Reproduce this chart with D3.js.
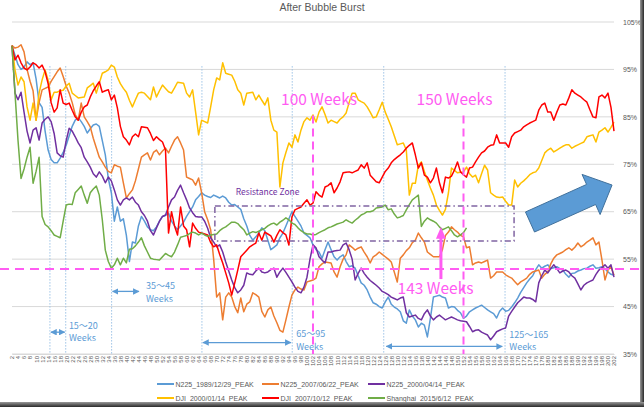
<!DOCTYPE html>
<html><head><meta charset="utf-8">
<script src="https://cdn.jsdelivr.net/npm/d3@7"></script>
<style>body{margin:0;background:#fff}svg{display:block}</style>
</head><body><svg id="c" width="644" height="407"></svg>
<script>
// ---------- DATA ----------
const weeks = d3.range(0, 201);                    // week index
const weekLabels = weeks.map(i => String(i + 2));  // category labels
const yTicks = [35, 45, 55, 65, 75, 85, 95, 105];

const n225_1989 = [100,98,96,95,95.5,96.6,96,96.4,93,88,
87,82,78,76,75.3,75.3,76.3,77.5,79,81,
83,84.3,84.8,84,83,81.6,82.5,83.3,83.5,83,
80,77,72,69,63,66,63,63.5,60,54.5,
58.6,58.4,62,64,63,61.8,61.2,61,61.8,63,
64,64.2,64.7,63,62,61.2,62,62.8,64,65,
66,67.5,68.2,69,68.5,68.2,68,68.5,68.2,67.9,
68.3,67.9,67,66.4,66.5,66,65.5,63.5,62,60,
59,59.7,60.5,61.6,61,59,57,57.5,58,59.5,
60.5,62,63.5,65,64,63,62,60.5,60,59.5,
58,57,56.5,55.2,57,58.6,57,55.5,54.8,55.5,
55.9,54.5,53.4,53.6,53.1,51.5,50,49.5,48.5,47,
45.8,45.5,45,44.7,46,47,45.5,44.9,44.5,43.9,
42,41.5,44.3,43,42.2,40.7,41.5,41.1,38.6,42.5,
47,47.2,47.4,47,46.8,44.7,45,44.9,44.2,43.7,
42.5,43,43.9,44.3,44.7,45,45.3,44.8,44.3,43.9,
43.5,42.6,44,44.7,44,44.2,44.9,45.8,46.8,48,
49,50,50.8,51.5,52.8,53.8,53.1,53.5,53.8,53,
53.2,53.4,53,52.7,51.8,51.2,52,52.1,52.5,52.7,
53,53.1,53.5,53.8,53.1,53.2,53.4,53,52.3,51.8,
51.6];

const n225_2007 = [100,99.5,99.7,100.2,98.7,95,92.5,90.5,84.3,88,
90.7,91,91.3,92.5,93.5,94.5,95.3,93.5,91.5,90,
88,85.5,84.3,87.9,85,84,82.9,80.5,78.5,76.5,
75.5,74.4,73.5,73.2,74.9,74.6,74.4,71.1,67.9,68.8,
69.6,71.5,74,76.5,77,77.4,75.9,77.5,78,77,
77.8,78.4,77.4,78.8,80.1,80.8,79.5,78,72.3,72,
71.7,70.6,72.1,69,65,63.3,61.2,55,47,47.9,
42.2,47,47.9,47,45,43.7,46.8,43.9,45.5,46,
47.9,47.5,47,44,42.8,44.3,44.9,43,41.6,40,
39.6,42.2,44.9,47.4,48.5,49.1,48.7,48.5,50.2,50.4,
50.6,51,53.4,54,54.4,54.3,54.2,52.3,51.2,53.4,
55,55.9,58,57.5,56.9,57.3,57.6,56.5,55.5,54.2,
55.5,55.9,56.5,56,55.5,55,54.4,52.3,50.2,55.2,
55.9,56.8,57.4,58.5,59,60.5,59.5,58.6,56.5,56,
55.5,55.5,55.5,57,60,60.7,61.8,61.2,60.7,60,
59.7,57.4,57.6,53.8,54.2,54.4,54.2,54.5,54.8,51,
51.5,52.3,52.3,52.3,51.7,51.3,51,50.3,49.6,50.2,
50.6,51,51.8,52.3,52.5,52.7,51,51.8,52.3,54,
55.2,55.9,56.2,56.5,57,57.4,56.9,57.5,58.4,57.6,
58,58.6,59,59.5,58,58.6,54.8,50.6,52.7,53.4,
51.6];

const n225_2000 = [100,90,88.6,90.2,86,82,79.5,82.2,82.7,80.1,
83.7,84.5,85,84,81.5,77.4,76.8,76.5,80,82.6,
82,80.8,79.5,78.5,76.5,75.5,74.4,73,72.3,73.4,
72.5,71.1,72.3,71.5,69.6,67.5,66.4,67.5,67.9,67.5,
68.1,67,66.4,65,64.2,63,61,60.1,61.6,63,
64,64.3,66,67.5,68.1,69.5,70.6,69,67.5,65.8,
64.8,64,63.9,63.9,63,61.5,59.5,58.6,57.6,58,
56.5,54.4,52.5,50.6,49,47.9,48.5,49.5,52.1,51.8,
51.7,52.5,53.1,52.3,52.1,52.3,52.8,53.1,51.2,52.3,
53.1,52.2,51.2,50.2,49.1,48.2,47.9,49.1,51.2,55,
58,57.4,55.5,54.8,54.2,56.5,56.5,56.7,56.8,56.9,
58,58.4,57,55,50.6,52,53.1,52,51.2,50.5,
50,49.5,48.9,48.2,47.9,47.5,47,46.7,46.4,46.8,
47,43.7,42.8,43,43.2,42.5,42.2,43.5,44.3,43,
42.2,42.8,43.2,42.7,42.2,42.5,42.8,42.5,42.2,42,
41.9,41.8,40.8,39.7,40,40.1,39.6,39.3,39,38,
38.8,39.7,40,40.3,40.5,43,44,44.9,45.8,46.4,
47,46.8,46.8,46.5,46,50,51.5,52.7,52.1,53,
53.8,53,52.1,52.5,52.7,52.3,51.5,51,49.8,48.5,
49.5,50,50.3,50.6,51.8,52.7,53.2,53.8,53.1,53.8,
51.2];

const dji_2000 = [100,94.9,91.7,93.4,92.4,87.1,84.3,87.9,84.3,90,
92.8,94.9,92.8,88.6,90.2,90.2,90.5,90.6,91.5,92.1,
90,89.5,89,89.1,89.2,91.1,91.6,92.1,90,92.1,
94.2,94.5,94.9,95.9,95.5,93.4,92,91,90.2,88.5,
87.1,88.6,90,90.2,90,89.3,88.6,91.3,89.2,90.5,
91.7,91,90.3,90,91.1,92.3,92.2,92.1,90,89.2,
90.7,86,81.2,84.3,84,83.7,87.1,90.7,93.2,92.8,
96.4,94.2,94,93.8,92.5,90.7,90,87.5,90,90.1,
90.2,88.6,89.6,88.5,87.5,89,84.3,82.2,81.8,70.2,
75.3,77.5,79.5,78.6,81.2,79.7,82.2,84,84.8,84.3,
85.4,83.9,86,87.1,85.5,83.7,84.3,84,83.7,84.5,
85,85.8,88,90,90,88.6,88.2,87.9,87.1,86,
84.8,85,86.5,88.1,86,84.5,82.9,81,79.1,79.3,
79.5,78,68.5,71,71,74.8,75.5,73.5,71.7,70,
68.5,66.4,65.3,64.3,65.5,69,74.2,73.7,73.2,73.3,
73.4,74.4,73,72.3,72.7,71.1,73,74.8,73.8,69,
68.5,68.1,68,68.1,67.2,66.4,66.4,71.7,70.2,71,
71.5,72.1,72.8,73.2,73.4,74.2,75.8,77.4,78,78.4,
77.6,78,78.4,78.8,79.1,79.1,78.4,78.8,79.1,79.4,
79.7,80.8,81,81.2,79.7,81.8,82.2,82.7,81.8,82.8,
83.9];

const dji_2007 = [100,97,98,96.4,95.3,94.9,95.5,96.4,96,95.3,
95.9,94.5,92,88,86,86.9,90.7,87.9,87.6,87.9,
86.4,85,84.3,86,87.1,87.5,89.2,90.5,91.5,92.4,
90.2,90.5,90.7,88.6,89.6,86.9,83,80.8,80.1,79.1,
80.8,81.4,80.8,82.9,82.8,82.7,81.5,80,80.8,80.2,
79.7,78,60.5,65,62,60.1,66,62,61.2,57.6,
62.6,61.5,60.7,60.5,60.3,60.1,58.5,57.6,58,56,
54.2,52.1,50,47.4,50,52.7,55.5,56.2,56.9,57.6,
58,58.4,60.5,59,60.7,60.3,59.9,58.6,60,61.2,
60.6,60.1,58,63.9,65.4,65.7,66,66.8,67.5,66.4,
66.8,69.2,68.5,68.1,70.2,70.5,71.1,69,70,71.3,
73.2,73.3,73.4,73.2,73.5,73.8,74.9,74.2,75.3,72.7,
72,71.3,71.1,72.3,73.5,74.2,75.3,76,76.5,77,
77.6,78.4,79,79.5,77,74.2,75.3,72.7,72.3,71.1,
72.1,74.2,71.1,69,72.3,72.1,72.5,73.8,75.5,73.4,
72.8,72.3,74.2,74.4,75.5,76.5,77.4,77.8,78.6,79,
79.1,81.2,79.5,79.5,79.5,78.6,80.8,81.6,81.9,82.2,
82.9,83.3,83.7,84,84.3,86.4,87.5,87.9,86,86,
84.3,86,87.5,87.7,87.5,89,90.7,90,89.6,89.2,
88.6,88.1,86.5,85,84.8,89.2,89.6,89,90,87,
82];

const shanghai_2015 = [100,90,80,72,74,76.5,78.6,71,73.5,76.5,
64,62.3,61.8,61,60.1,59.8,59.5,63,66.4,66.6,
66.5,69,69.7,70.4,68.5,66.8,69,69.8,70.4,68.5,
63.3,56.9,54.5,53.1,53.8,55.2,53.8,55.2,54.2,57.1,
57.2,57.8,58.6,59.5,57.8,56.5,55.2,55,54.9,54.8,
55.5,56.2,55.8,55.5,56.5,58,59.6,59.8,60,60.4,
60.7,60.5,60.1,60.5,60.1,59.8,60.1,60.2,60.3,61,
61.5,61.8,62.3,62.8,62.8,62.5,61.8,61.2,60.1,60.5,
60.8,60.6,60.9,61.2,61.5,62,62.4,62.6,62.2,62.8,
63.2,63.7,63.3,62.6,62.3,61.6,61,60.6,60.3,60.3,
60.1,60.2,60.6,60.9,61.2,61.6,61.8,62.1,62.4,62.6,
62.8,63.3,62.9,62.6,63.2,63.7,64.3,64.6,65,65,
65.2,65.8,65.9,66,66.4,65.4,65.6,64.5,63.7,63.9,
64.2,65.4,66.5,67.5,68,68.5,61.9,63,63.7,63.3,
63,62.6,61.8,61.2,61.5,61.8,61,60.1,59.7,60.1,
60.6,61.6];

const seriesNames = ["N225_1989/12/29_PEAK","N225_2007/06/22_PEAK","N225_2000/04/14_PEAK",
                     "DJI_2000/01/14_PEAK","DJI_2007/10/12_PEAK","Shanghai_2015/6/12_PEAK"];
const seriesColors = ["#5B9BD5","#ED7D31","#7030A0","#FFC000","#FF0000","#70AD47"];
const seriesValues = [n225_1989, n225_2007, n225_2000, dji_2000, dji_2007, shanghai_2015];

// annotation values (weeks index / percent)
const blueGuideWeeks = [12.6, 17.85, 33.1, 63.1, 93.1, 123.5, 163.8];
const blueRanges = [
  {from:12.6, to:17.85, yv:39.6, l1:"15〜20", l2:"Weeks", tw:18.9, t1:40.3, t2:37.8},
  {from:33.1, to:42.5,  yv:48.2, l1:"35〜45", l2:"Weeks", tw:44.5, t1:48.7, t2:46.0},
  {from:63.1, to:93.0,  yv:37.4, l1:"65〜95", l2:"Weeks", tw:94.4, t1:38.5, t2:35.8},
  {from:124,  to:163.2, yv:36.6, l1:"125〜165", l2:"Weeks", tw:165.2, t1:38.4, t2:35.8}
];
const weekMarks = [{w:100, label:"100 Weeks", tx:102}, {w:150, label:"150 Weeks", tx:147}];
const supportLevel = 52.9;
const zone = {w0:67.4, w1:166.8, top:66.2, bottom:58.8};

// ---------- DRAW ----------
const svg = d3.select("#c");
const W = 644, H = 407;
const x = d3.scaleLinear().domain([0, 200]).range([12, 614]);
const y = d3.scaleLinear().domain([35, 105]).range([354, 22]);
const MAG = "#FF5CF2", BLUE = "#5B9BD5", PURP = "#7030A0";
const latin = "'Liberation Sans', Arial, sans-serif";
const cjk = "'Noto Sans CJK JP', 'Noto Sans', sans-serif";

svg.append("rect").attr("width", W).attr("height", H).attr("fill", "#fff");

// title
svg.append("text").attr("x", 322).attr("y", 11).attr("text-anchor", "middle")
  .attr("font-family", latin).attr("font-size", 10.5).attr("fill", "#595959")
  .text("After Bubble Burst");

// gridlines
svg.append("g").selectAll("line").data(yTicks).join("line")
  .attr("x1", x(0)).attr("x2", x(200))
  .attr("y1", d => y(d)).attr("y2", d => y(d))
  .attr("stroke", "#D9D9D9").attr("stroke-width", 1);

// right y axis
const yAxis = svg.append("g").attr("transform", `translate(${x(200)},0)`)
  .call(d3.axisRight(y).tickValues(yTicks).tickSize(0).tickPadding(9).tickFormat(d => d + "%"));
yAxis.select(".domain").remove();
yAxis.selectAll("text").attr("font-family", latin).attr("font-size", 7).attr("fill", "#595959");

// bottom x axis (category labels)
const xAxis = svg.append("g").attr("transform", `translate(0,${y(35)})`)
  .call(d3.axisBottom(x).tickValues(weeks.filter(i => i % 2 === 0)).tickSize(0)
    .tickFormat(i => weekLabels[i]));
xAxis.select(".domain").attr("stroke", "#D9D9D9");
xAxis.selectAll("text").attr("font-family", latin).attr("font-size", 6).attr("fill", "#595959")
  .attr("transform", "rotate(-90)").attr("text-anchor", "end")
  .attr("dx", "-2").attr("dy", "0.32em").attr("x", 0).attr("y", 0);

// blue dotted guides
svg.append("g").selectAll("line").data(blueGuideWeeks).join("line")
  .attr("x1", d => x(d)).attr("x2", d => x(d))
  .attr("y1", (d, i) => i === 2 ? y(93.6) : y(95.7)).attr("y2", y(35))
  .attr("stroke", "#9DC3E6").attr("stroke-width", 1).attr("stroke-dasharray", "1.5,1.5");

// series lines
const line = d3.line().x((d, i) => x(i)).y(d => y(d));
svg.append("g").selectAll("path").data(seriesValues).join("path")
  .attr("d", d => line(d)).attr("fill", "none")
  .attr("stroke", (d, i) => seriesColors[i]).attr("stroke-width", 1.5)
  .attr("stroke-linejoin", "round");

// resistance zone
svg.append("rect").attr("x", x(zone.w0)).attr("y", y(zone.top))
  .attr("width", x(zone.w1) - x(zone.w0)).attr("height", y(zone.bottom) - y(zone.top))
  .attr("fill", "none").attr("stroke", "#8064A2").attr("stroke-width", 1.5)
  .attr("stroke-dasharray", "6,3,1.5,3");
svg.append("text").attr("x", x(74.3)).attr("y", y(68.5))
  .attr("font-family", cjk).attr("font-size", 8.5).attr("fill", PURP)
  .text("Resistance Zone");

// magenta horizontal support
svg.append("line").attr("x1", 0).attr("x2", 641).attr("y1", y(supportLevel)).attr("y2", y(supportLevel))
  .attr("stroke", MAG).attr("stroke-width", 2).attr("stroke-dasharray", "9,6");

// magenta week markers
weekMarks.forEach(m => {
  svg.append("line").attr("x1", x(m.w)).attr("x2", x(m.w)).attr("y1", y(85.3)).attr("y2", y(35))
    .attr("stroke", MAG).attr("stroke-width", 2).attr("stroke-dasharray", "8,5");
  svg.append("text").attr("x", x(m.tx)).attr("y", y(87.5)).attr("text-anchor", "middle")
    .attr("font-family", cjk).attr("font-size", 15.5).attr("fill", MAG).text(m.label);
});

// 143 weeks arrow + label
svg.append("line").attr("x1", x(142.5)).attr("x2", x(142.5)).attr("y1", y(50.8)).attr("y2", y(59.5))
  .attr("stroke", MAG).attr("stroke-width", 3);
svg.append("path")
  .attr("d", `M${x(142.5)-5},${y(59.3)} L${x(142.5)+5},${y(59.3)} L${x(142.5)},${y(61.8)} Z`)
  .attr("fill", MAG);
svg.append("text").attr("x", x(140.7)).attr("y", y(47.6)).attr("text-anchor", "middle")
  .attr("font-family", cjk).attr("font-size", 15.5).attr("fill", MAG).text("143 Weeks");

// blue double arrows + labels
const defs = svg.append("defs");
["s", "e"].forEach(k => {
  defs.append("marker").attr("id", "ar" + k).attr("viewBox", "0 0 10 10")
    .attr("refX", 9).attr("refY", 5).attr("markerWidth", 5).attr("markerHeight", 5)
    .attr("orient", k === "e" ? "auto" : "auto-start-reverse")
    .append("path").attr("d", "M0,0 L10,5 L0,10 Z").attr("fill", BLUE);
});
blueRanges.forEach(r => {
  svg.append("line").attr("x1", x(r.from) + 1).attr("x2", x(r.to) - 1)
    .attr("y1", y(r.yv)).attr("y2", y(r.yv))
    .attr("stroke", BLUE).attr("stroke-width", 1.3)
    .attr("marker-start", "url(#ars)").attr("marker-end", "url(#are)");
  svg.append("text").attr("x", x(r.tw)).attr("y", y(r.t1))
    .attr("font-family", cjk).attr("font-size", 9).attr("fill", BLUE).text(r.l1);
  svg.append("text").attr("x", x(r.tw)).attr("y", y(r.t2))
    .attr("font-family", cjk).attr("font-size", 9).attr("fill", BLUE).text(r.l2);
});

// big block arrow (trend)
(function () {
  const T = [530, 222], ang = Math.atan2(-0.41, 0.91);
  const d = [Math.cos(ang), Math.sin(ang)], n = [-d[1], d[0]];
  const L = 67, hw = 11, hh = 22, hl = 23;
  const B = [T[0] + L * d[0], T[1] + L * d[1]];
  const P = (p, a, v) => [p[0] + a * v[0], p[1] + a * v[1]];
  const tip = P(B, hl, d);
  const pts = [P(T, -hw, n), P(B, -hw, n), P(B, -hh, n), tip, P(B, hh, n), P(B, hw, n), P(T, hw, n)];
  svg.append("polygon").attr("points", pts.map(p => p.join(",")).join(" "))
    .attr("fill", "#5B9BD5").attr("stroke", "#41719C").attr("stroke-width", 1);
})();

// legend
const legend = svg.append("g");
const legX = [157, 262, 368], legY = [384, 398];
seriesNames.forEach((name, i) => {
  const lx = legX[i % 3], ly = legY[Math.floor(i / 3)];
  legend.append("line").attr("x1", lx).attr("x2", lx + 17).attr("y1", ly).attr("y2", ly)
    .attr("stroke", seriesColors[i]).attr("stroke-width", 2);
  legend.append("text").attr("x", lx + 18.5).attr("y", ly + 2.5)
    .attr("font-family", latin).attr("font-size", 7).attr("fill", "#595959").text(name);
});

// screenshot frame shadow
const g = defs.append("linearGradient").attr("id", "shR").attr("x1", 0).attr("x2", 1).attr("y1", 0).attr("y2", 0);
g.append("stop").attr("offset", 0).attr("stop-color", "#9a9a9a");
g.append("stop").attr("offset", 1).attr("stop-color", "#2a2a2a");
const g2 = defs.append("linearGradient").attr("id", "shB").attr("x1", 0).attr("x2", 0).attr("y1", 0).attr("y2", 1);
g2.append("stop").attr("offset", 0).attr("stop-color", "#9a9a9a");
g2.append("stop").attr("offset", 1).attr("stop-color", "#2a2a2a");
svg.append("rect").attr("x", 640).attr("y", 0).attr("width", 4).attr("height", H).attr("fill", "url(#shR)");
svg.append("rect").attr("x", 0).attr("y", 402).attr("width", 644).attr("height", 5).attr("fill", "url(#shB)");
</script></body></html>
